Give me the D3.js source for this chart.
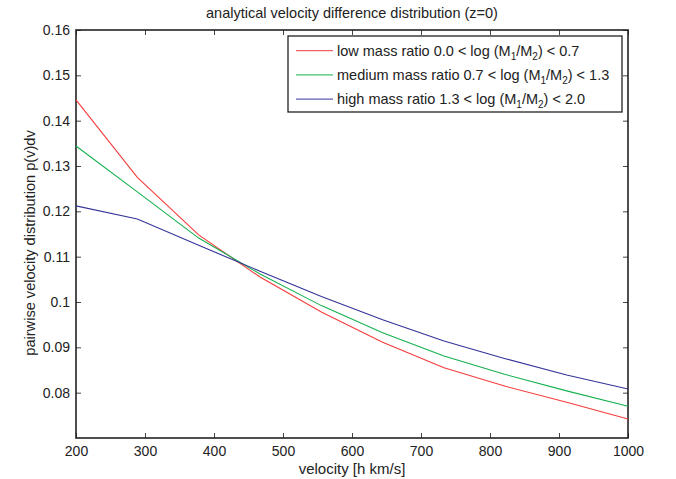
<!DOCTYPE html>
<html>
<head>
<meta charset="utf-8">
<script src="https://cdn.jsdelivr.net/npm/d3@7"></script>
<style>
  body { margin: 0; background: #fff; }
  text { font-family: "Liberation Sans", Arial, sans-serif; fill: #222; }
</style>
</head>
<body>
<svg id="chart"></svg>
<script>
const w = 676;
const h = 479;
const margin = { top: 30, right: 48, bottom: 41, left: 76 };

// velocity samples [h km/s]
const velocity = [200, 288.9, 377.8, 466.7, 555.6, 644.4, 733.3, 822.2, 911.1, 1000];

const lowMass = [0.1446, 0.1275, 0.1148, 0.1055, 0.0978, 0.0911, 0.0855, 0.0814, 0.0779, 0.0742];
const mediumMass = [0.1344, 0.1243, 0.1141, 0.1062, 0.0992, 0.0932, 0.0881, 0.0840, 0.0804, 0.0770];
const highMass = [0.1212, 0.1183, 0.1125, 0.1068, 0.1012, 0.0961, 0.0914, 0.0875, 0.0839, 0.0808];

const seriesNames = ['low mass ratio 0.0', 'medium mass ratio 0.7', 'high mass ratio 1.3'];
const seriesUpper = ['0.7', '1.3', '2.0'];
const seriesColors = ['#f53c3c', '#16b050', '#34349a'];

const xTicks = [200, 300, 400, 500, 600, 700, 800, 900, 1000];
const yTicks = [0.08, 0.09, 0.1, 0.11, 0.12, 0.13, 0.14, 0.15, 0.16];

const series = [lowMass, mediumMass, highMass];

const svg = d3.select('#chart').attr('width', w).attr('height', h);

const x = d3.scaleLinear().domain([200, 1000]).range([margin.left, w - margin.right]);
const y = d3.scaleLinear().domain([0.07, 0.16]).range([h - margin.bottom, margin.top]);

const fmtY = (d) => d3.format('.2~f')(d);

////// AXES //////
const tickLen = 5;
svg.append('g')
  .attr('transform', `translate(0,${h - margin.bottom})`)
  .call(d3.axisBottom(x).tickValues(xTicks).tickFormat(d3.format('d'))
    .tickSizeInner(-tickLen).tickSizeOuter(0).tickPadding(8))
  .call((g) => g.selectAll('text').attr('font-size', 14));

svg.append('g')
  .attr('transform', `translate(0,${margin.top})`)
  .call(d3.axisTop(x).tickValues(xTicks).tickSizeInner(-tickLen).tickSizeOuter(0).tickFormat(''));

svg.append('g')
  .attr('transform', `translate(${margin.left},0)`)
  .call(d3.axisLeft(y).tickValues(yTicks).tickFormat(fmtY).tickSizeInner(-tickLen).tickSizeOuter(0).tickPadding(6))
  .call((g) => g.selectAll('text').attr('font-size', 14));

svg.append('g')
  .attr('transform', `translate(${w - margin.right},0)`)
  .call(d3.axisRight(y).tickValues(yTicks).tickSizeInner(-tickLen).tickSizeOuter(0).tickFormat(''));

svg.selectAll('.domain').remove();
svg.selectAll('.tick line').attr('stroke', '#444').attr('stroke-width', 1);

svg.append('rect')
  .attr('x', margin.left)
  .attr('y', margin.top)
  .attr('width', w - margin.left - margin.right)
  .attr('height', h - margin.top - margin.bottom)
  .attr('fill', 'none')
  .attr('stroke', '#222')
  .attr('stroke-width', 1.6);

////// LINES //////
const line = d3.line()
  .x((d, i) => x(velocity[i]))
  .y((d) => y(d));

svg.selectAll('path.series')
  .data(series)
  .enter()
  .append('path')
  .attr('class', 'series')
  .attr('d', line)
  .attr('fill', 'none')
  .attr('stroke', (d, i) => seriesColors[i])
  .attr('stroke-width', 1.1);

////// TEXT //////
const cx = (margin.left + w - margin.right) / 2;

svg.append('text')
  .attr('x', cx)
  .attr('y', 18)
  .attr('text-anchor', 'middle')
  .attr('font-size', 14.5)
  .text('analytical velocity difference distribution (z=0)');

svg.append('text')
  .attr('x', cx)
  .attr('y', 474)
  .attr('text-anchor', 'middle')
  .attr('font-size', 15)
  .text('velocity [h km/s]');

svg.append('text')
  .attr('transform', `translate(35,243) rotate(-90)`)
  .attr('text-anchor', 'middle')
  .attr('font-size', 14.6)
  .text('pairwise velocity distribution p(v)dv');

////// LEGEND //////
const legend = svg.append('g').attr('transform', 'translate(288,36)');
legend.append('rect')
  .attr('width', 334)
  .attr('height', 76)
  .attr('fill', '#fff')
  .attr('stroke', '#222')
  .attr('stroke-width', 1.3);

seriesNames.forEach((name, i) => {
  const ly = 14.7 + i * 24.2;
  legend.append('line')
    .attr('x1', 8).attr('x2', 45)
    .attr('y1', ly).attr('y2', ly)
    .attr('stroke', seriesColors[i]);
  const t = legend.append('text')
    .attr('x', 49)
    .attr('y', ly + 5)
    .attr('font-size', 14.5);
  t.append('tspan').text(name + ' < log (M');
  t.append('tspan').attr('dy', 4).attr('font-size', 10).text('1');
  t.append('tspan').attr('dy', -4).text('/M');
  t.append('tspan').attr('dy', 4).attr('font-size', 10).text('2');
  t.append('tspan').attr('dy', -4).text(') < ' + seriesUpper[i]);
});
</script>
</body>
</html>
